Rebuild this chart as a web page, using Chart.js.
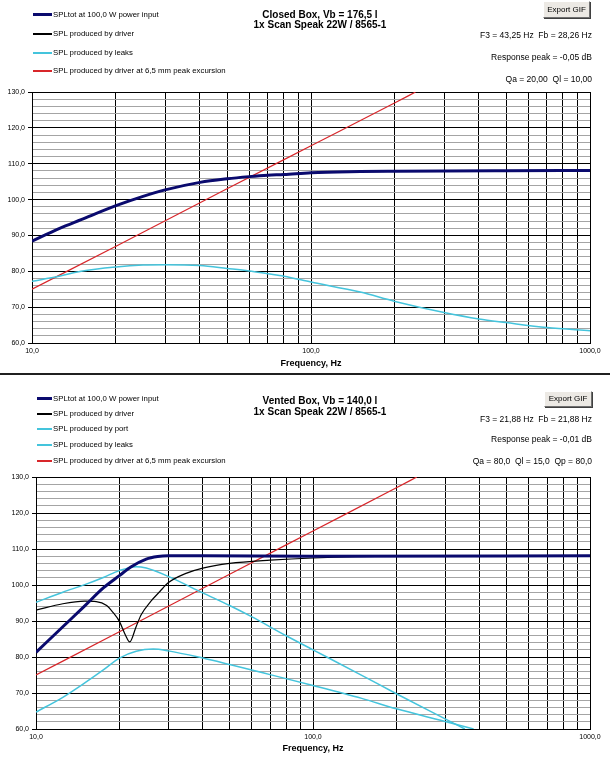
<!DOCTYPE html>
<html>
<head>
<meta charset="utf-8">
<script src="https://cdn.jsdelivr.net/npm/chart.js@4.4.1/dist/chart.umd.min.js"></script>
<style>
    body { margin: 0; background: #fff; font-family: "Liberation Sans", Arial, sans-serif; }
    #page { position: relative; width: 610px; height: 770px; overflow: hidden; background: #fff; }
    canvas { position: absolute; left: 0; }
    .txt { position: absolute; line-height: 10px; white-space: pre; color: #000; }
    .leg { font-size: 7.8px; left: 53px; }
    .legLine { position: absolute; left: -20px; top: 4px; width: 19px; height: 2px; }
    .legLine.thick { top: 3px; height: 3px; }
    .legLine.short { left: -16px; width: 15px; }
    .title { font-weight: bold; font-size: 10px; left: 200px; width: 240px; text-align: center; }
    .info { font-size: 8.5px; right: 18px; text-align: right; }
    .btn { position: absolute; background: #ece9e4; border: 1px solid; border-color: #fff #707070 #707070 #fff;
           box-shadow: 1px 1px 0 #404040; font-size: 8px; text-align: center; box-sizing: border-box; }
    .sep { position: absolute; left: 0; width: 610px; height: 2px; background: #202020; }
</style>
</head>
<body>
<div id="page">
    <canvas id="closedChart" width="610" height="385" style="top:0"></canvas>
    <canvas id="ventedChart" width="610" height="385" style="top:385px"></canvas>

    <!-- closed box header -->
    <div class="txt leg" style="top:10px"><span class="legLine thick" style="background:#0a0a6e"></span>SPLtot at 100,0 W power input</div>
    <div class="txt leg" style="top:29px"><span class="legLine" style="background:#000"></span>SPL produced by driver</div>
    <div class="txt leg" style="top:48px"><span class="legLine" style="background:#44c4dc"></span>SPL produced by leaks</div>
    <div class="txt leg" style="top:66px"><span class="legLine" style="background:#d8262a"></span>SPL produced by driver at 6,5 mm peak excursion</div>
    <div class="txt title" style="top:10px">Closed Box, Vb = 176,5 l</div>
    <div class="txt title" style="top:20px">1x Scan Speak 22W / 8565-1</div>
    <div class="btn" style="left:543px;top:1px;width:47px;height:17px;line-height:15px">Export GIF</div>
    <div class="txt info" style="top:30px">F3 = 43,25 Hz  Fb = 28,26 Hz</div>
    <div class="txt info" style="top:52px">Response peak = -0,05 dB</div>
    <div class="txt info" style="top:74px">Qa = 20,00  Ql = 10,00</div>
    <div class="sep" style="top:373px"></div>

    <!-- vented box header -->
    <div class="txt leg" style="top:394px"><span class="legLine thick short" style="background:#0a0a6e"></span>SPLtot at 100,0 W power input</div>
    <div class="txt leg" style="top:409px"><span class="legLine short" style="background:#000"></span>SPL produced by driver</div>
    <div class="txt leg" style="top:424px"><span class="legLine short" style="background:#44c4dc"></span>SPL produced by port</div>
    <div class="txt leg" style="top:440px"><span class="legLine short" style="background:#44c4dc"></span>SPL produced by leaks</div>
    <div class="txt leg" style="top:456px"><span class="legLine short" style="background:#d8262a"></span>SPL produced by driver at 6,5 mm peak excursion</div>
    <div class="txt title" style="top:396px">Vented Box, Vb = 140,0 l</div>
    <div class="txt title" style="top:407px">1x Scan Speak 22W / 8565-1</div>
    <div class="btn" style="left:544px;top:391px;width:48px;height:16px;line-height:14px">Export GIF</div>
    <div class="txt info" style="top:414px">F3 = 21,88 Hz  Fb = 21,88 Hz</div>
    <div class="txt info" style="top:434px">Response peak = -0,01 dB</div>
    <div class="txt info" style="top:456px">Qa = 80,0  Ql = 15,0  Qp = 80,0</div>
</div>

<script>
// axis ticks
const freqTicks = [10, 20, 30, 40, 50, 60, 70, 80, 90, 100, 200, 300, 400, 500, 600, 700, 800, 900, 1000];
const freqLabels = [10, 100, 1000];
const splTicks = [60, 62, 64, 66, 68, 70, 72, 74, 76, 78, 80, 82, 84, 86, 88, 90, 92, 94, 96, 98,
    100, 102, 104, 106, 108, 110, 112, 114, 116, 118, 120, 122, 124, 126, 128, 130];

// closed box
const closedFreq = [10, 12.5, 15, 20, 25, 30, 40, 50, 60, 70, 80, 100, 150, 200, 300, 500, 1000];
const closedTot = [88.4, 91.9, 94.4, 98.3, 100.9, 102.7, 104.8, 105.8, 106.4, 106.8, 107.0, 107.5, 107.8, 107.9, 108.0, 108.05, 108.1];
const closedLeaksFreq = [10, 12.5, 15, 20, 25, 30, 40, 50, 60, 70, 80, 100, 150, 200, 300, 400, 500, 700, 1000];
const closedLeaks = [77.2, 78.6, 80.0, 81.2, 81.75, 81.85, 81.6, 80.8, 80.1, 79.3, 78.6, 77.0, 74.2, 71.6, 68.5, 66.7, 65.7, 64.3, 63.4];
const excursionFreq = [10, 20, 50, 100, 200, 237];
const excursionSpl = [75.0, 87.0, 103.0, 115.0, 127.0, 130.0];

// vented box
const ventTotFreq = [10, 12.5, 15, 17.5, 20, 22, 25, 27.5, 30, 40, 100, 1000];
const ventTot = [81.3, 88.4, 94.2, 99.2, 102.6, 105.0, 107.2, 107.9, 108.1, 108.1, 108.0, 108.1];
const ventDriverFreq = [10, 12.5, 15, 16.5, 18, 19, 20, 21, 21.8, 23, 24, 26, 28, 30, 35, 40, 50, 70, 100, 200, 1000];
const ventDriver = [93.0, 94.8, 95.5, 95.4, 94.3, 92.3, 89.9, 86.2, 84.2, 88.5, 91.8, 95.5, 98.2, 100.6, 103.3, 104.7, 106.0, 106.9, 107.5, 108.0, 108.1];
const ventPortFreq = [10, 12.5, 15, 17.5, 20, 23, 25, 30, 40, 50, 60, 80, 100, 150, 200, 300, 353];
const ventPort = [95.2, 98.0, 100.1, 102.1, 104.0, 105.1, 104.7, 102.4, 97.8, 94.3, 91.2, 85.9, 82.0, 74.9, 69.8, 62.8, 60.0];
const ventLeaksFreq = [10, 12.5, 15, 17.5, 20, 23, 26.5, 30, 40, 50, 70, 100, 150, 200, 300, 380];
const ventLeaks = [64.7, 68.8, 72.8, 76.4, 79.7, 81.6, 82.2, 81.7, 79.7, 77.9, 75.1, 72.1, 68.5, 65.6, 62.1, 60.0];

function pts(xs, ys) {
    return xs.map((x, i) => ({ x: x, y: ys[i] }));
}

function line(label, xs, ys, color, width) {
    return {
        label: label,
        data: pts(xs, ys),
        borderColor: color,
        backgroundColor: color,
        borderWidth: width,
        pointRadius: 0,
        cubicInterpolationMode: "monotone",
        fill: false
    };
}

function comma(v) {
    return v.toFixed(1).replace(".", ",");
}

function makeChart(id, datasets, yWidth, xHeight) {
    const ctx = document.getElementById(id).getContext("2d");
    return new Chart(ctx, {
        type: "line",
        data: { datasets: datasets },
        options: {
            responsive: false,
            animation: false,
            layout: { padding: { top: 92, right: 20, left: 0, bottom: 0 } },
            plugins: { legend: { display: false }, tooltip: { enabled: false } },
            scales: {
                x: {
                    type: "logarithmic",
                    min: 10,
                    max: 1000,
                    afterBuildTicks: (scale) => { scale.ticks = freqTicks.map((v) => ({ value: v })); },
                    afterFit: (scale) => { scale.height = xHeight; },
                    ticks: {
                        autoSkip: false,
                        maxRotation: 0,
                        padding: 4,
                        color: "#000",
                        font: { family: "Liberation Sans", size: 7 },
                        callback: (v) => freqLabels.includes(v) ? comma(v) : ""
                    },
                    grid: { color: "#000", lineWidth: 1, tickLength: 0 },
                    border: { color: "#000", width: 1 },
                    title: {
                        display: true,
                        text: "Frequency, Hz",
                        color: "#000",
                        font: { family: "Liberation Sans", size: 9, weight: "bold" },
                        padding: { top: 0, bottom: 16.5 }
                    }
                },
                y: {
                    min: 60,
                    max: 130,
                    afterBuildTicks: (scale) => { scale.ticks = splTicks.map((v) => ({ value: v })); },
                    afterFit: (scale) => { scale.width = yWidth; },
                    ticks: {
                        autoSkip: false,
                        padding: 3,
                        color: "#000",
                        font: { family: "Liberation Sans", size: 7 },
                        callback: (v) => v % 10 === 0 ? comma(v) : ""
                    },
                    grid: {
                        color: (c) => c.tick && c.tick.value % 10 === 0 ? "#000" : "#a4a4a4",
                        tickColor: (c) => c.tick && c.tick.value % 10 === 0 ? "#000" : "rgba(0,0,0,0)",
                        lineWidth: 1,
                        tickLength: 4
                    },
                    border: { color: "#000", width: 1 }
                }
            }
        }
    });
}

document.addEventListener("DOMContentLoaded", function () {
    makeChart("closedChart", [
        line("SPLtot at 100,0 W power input", closedFreq, closedTot, "#0a0a6e", 3),
        line("SPL produced by driver", closedFreq, closedTot, "#000", 1.2),
        line("SPL produced by leaks", closedLeaksFreq, closedLeaks, "#44c4dc", 1.5),
        line("SPL produced by driver at 6,5 mm peak excursion", excursionFreq, excursionSpl, "#d8262a", 1.2)
    ], 32, 42);

    makeChart("ventedChart", [
        line("SPLtot at 100,0 W power input", ventTotFreq, ventTot, "#0a0a6e", 3),
        line("SPL produced by driver", ventDriverFreq, ventDriver, "#000", 1.2),
        line("SPL produced by port", ventPortFreq, ventPort, "#44c4dc", 1.5),
        line("SPL produced by leaks", ventLeaksFreq, ventLeaks, "#44c4dc", 1.5),
        line("SPL produced by driver at 6,5 mm peak excursion", excursionFreq, excursionSpl, "#d8262a", 1.2)
    ], 36, 41);
});
</script>
</body>
</html>
